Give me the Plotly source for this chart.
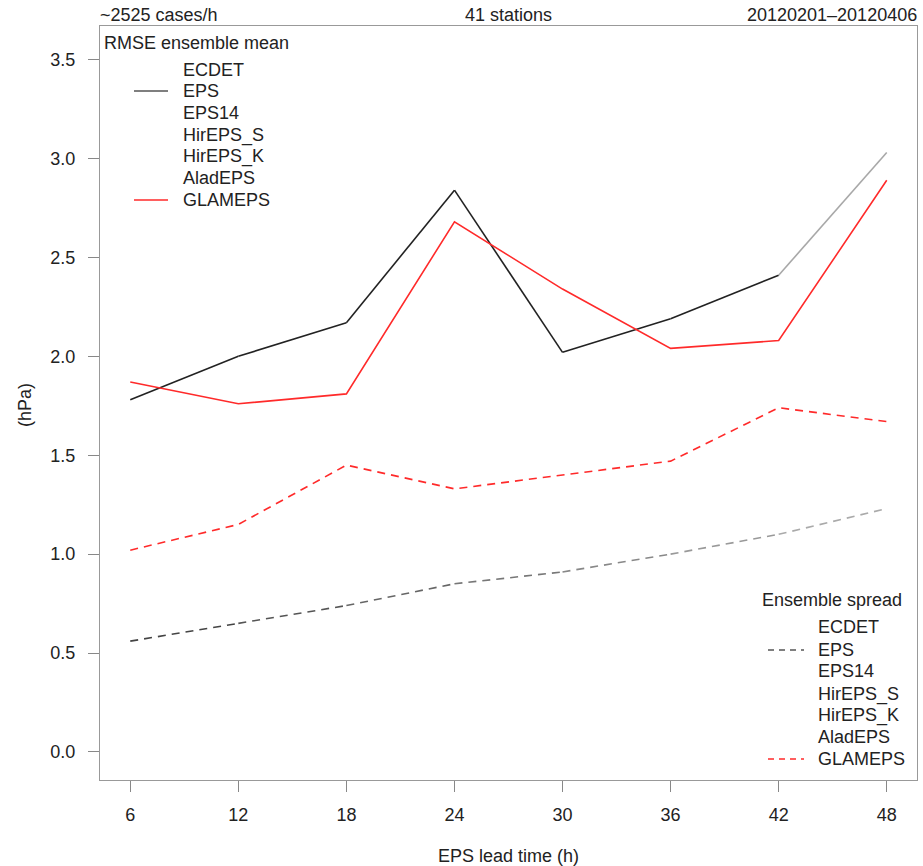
import plotly.graph_objects as go

# ---------------- data ----------------
lead_times = [6, 12, 18, 24, 30, 36, 42, 48]
eps_mean = [1.78, 2.00, 2.17, 2.84, 2.02, 2.19, 2.41, 3.03]
glameps_mean = [1.87, 1.76, 1.81, 2.68, 2.34, 2.04, 2.08, 2.89]
eps_spread = [0.56, 0.65, 0.74, 0.85, 0.91, 1.00, 1.10, 1.23]
glameps_spread = [1.02, 1.15, 1.45, 1.33, 1.40, 1.47, 1.74, 1.67]
models = ["ECDET", "EPS", "EPS14", "HirEPS_S", "HirEPS_K", "AladEPS", "GLAMEPS"]
y_ticks = [0.0, 0.5, 1.0, 1.5, 2.0, 2.5, 3.0, 3.5]
header_left = "~2525 cases/h"
header_mid = "41 stations"
header_right = "20120201–20120406"
legend_title_mean = "RMSE ensemble mean"
legend_title_spread = "Ensemble spread"
x_title = "EPS lead time (h)"
y_title = "(hPa)"

# ---------------- styles ----------------
W, H = 923, 866
L, R, T, B = 100, 917, 26, 780
FONT = "Liberation Sans, Arial, sans-serif"
FS = 18
TXT = "#222222"
RED = "#ff2a2a"
eps_mean_colors = ["#222222"] * 6 + ["#a8a8a8"]
eps_spread_colors = ["#444444", "#555555", "#666666", "#777777",
                     "#888888", "#999999", "#aaaaaa"]
DASH = "8px,6px"


def px(xp):
    return (xp - L) / (R - L)


def py(yp):
    return (B - yp) / (B - T)


fig = go.Figure()

# EPS mean: segment-wise colours
for i in range(len(lead_times) - 1):
    fig.add_trace(go.Scatter(x=lead_times[i:i + 2], y=eps_mean[i:i + 2], mode="lines",
                             line=dict(color=eps_mean_colors[i], width=1.6),
                             showlegend=False, hoverinfo="skip"))
fig.add_trace(go.Scatter(x=lead_times, y=glameps_mean, mode="lines",
                         line=dict(color=RED, width=1.6), showlegend=False))
for i in range(len(lead_times) - 1):
    fig.add_trace(go.Scatter(x=lead_times[i:i + 2], y=eps_spread[i:i + 2], mode="lines",
                             line=dict(color=eps_spread_colors[i], width=1.6, dash=DASH),
                             showlegend=False, hoverinfo="skip"))
fig.add_trace(go.Scatter(x=lead_times, y=glameps_spread, mode="lines",
                         line=dict(color=RED, width=1.6, dash=DASH), showlegend=False))

annotations = []
shapes = []


def text(x, y, s, anchor="left", angle=0):
    annotations.append(dict(x=px(x), y=py(y), xref="paper", yref="paper", text=s,
                            showarrow=False, xanchor=anchor, yanchor="middle",
                            textangle=angle, font=dict(family=FONT, size=FS, color=TXT)))


# headers
text(L - 2, 15, header_left, "left")
text((L + R) / 2, 15, header_mid, "center")
text(R + 2, 15, header_right, "right")
text((L + R) / 2, 856, x_title, "center")
text(25, 405, y_title, "center", -90)

# legend: RMSE ensemble mean
text(102, 43, legend_title_mean, "left")
leg1_y = [70, 91, 113, 135, 157, 178, 200]
for name, yy in zip(models, leg1_y):
    text(181, yy, name, "left")
    if name == "EPS":
        shapes.append(dict(type="line", xref="paper", yref="paper", x0=px(134), x1=px(168),
                           y0=py(yy), y1=py(yy), line=dict(color="#555555", width=1.6)))
    if name == "GLAMEPS":
        shapes.append(dict(type="line", xref="paper", yref="paper", x0=px(134), x1=px(168),
                           y0=py(yy), y1=py(yy), line=dict(color=RED, width=1.6)))

# legend: Ensemble spread
text(760, 600, legend_title_spread, "left")
leg2_y = [627, 650, 671, 694, 715, 737, 759]
for name, yy in zip(models, leg2_y):
    text(816, yy, name, "left")
    if name == "EPS":
        shapes.append(dict(type="line", xref="paper", yref="paper", x0=px(768), x1=px(804),
                           y0=py(yy), y1=py(yy), line=dict(color="#555555", width=1.6, dash="6px,5px")))
    if name == "GLAMEPS":
        shapes.append(dict(type="line", xref="paper", yref="paper", x0=px(768), x1=px(804),
                           y0=py(yy), y1=py(yy), line=dict(color=RED, width=1.6, dash="6px,5px")))

fig.update_layout(
    width=W, height=H,
    margin=dict(l=L, r=W - R, t=T, b=H - B, pad=0),
    paper_bgcolor="white", plot_bgcolor="white",
    showlegend=False,
    annotations=annotations, shapes=shapes,
    font=dict(family=FONT, size=FS, color=TXT),
)
fig.update_xaxes(range=[4.32, 49.68], tickvals=lead_times, ticktext=[str(v) for v in lead_times],
                 ticks="outside", ticklen=11, tickcolor="#888888", showgrid=False, zeroline=False,
                 showline=True, mirror=True, linecolor="#999999", linewidth=1,
                 ticklabelstandoff=7, tickfont=dict(family=FONT, size=FS, color=TXT))
fig.update_yaxes(range=[-0.142, 3.67], tickvals=y_ticks, ticktext=[f"{v:.1f}" for v in y_ticks],
                 ticks="outside", ticklen=11, tickcolor="#888888", showgrid=False, zeroline=False,
                 showline=True, mirror=True, linecolor="#999999", linewidth=1,
                 ticklabelstandoff=9, tickfont=dict(family=FONT, size=FS, color=TXT))

fig.write_html("out.html")
